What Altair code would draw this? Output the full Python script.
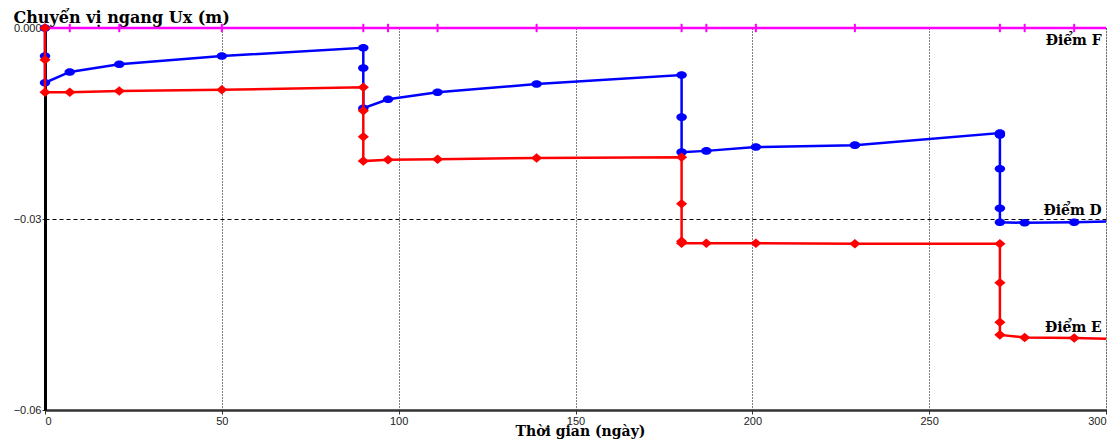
import altair as alt
import pandas as pd

# ---- data ----
t_D = [0, 0, 0, 7, 21, 50, 90,
       90, 90, 97, 111, 139, 180,
       180, 180, 187, 201, 229, 270,
       270, 270, 270, 270, 277, 291, 300]
u_D = [0.0, -0.0044, -0.0086, -0.0069, -0.0057, -0.0044, -0.0031,
       -0.0063, -0.0126, -0.0112, -0.0101, -0.0088, -0.0074,
       -0.0140, -0.0195, -0.0193, -0.0187, -0.0184, -0.0165,
       -0.0168, -0.0221, -0.0283, -0.0305, -0.0306, -0.0305, -0.0304]

t_E = [0, 0, 0, 7, 21, 50, 90,
       90, 90, 90, 97, 111, 139, 180,
       180, 180, 180, 187, 201, 229, 270,
       270, 270, 270, 277, 291, 300]
u_E = [0.0, -0.0050, -0.0101, -0.0101, -0.0099, -0.0097, -0.0093,
       -0.0130, -0.0171, -0.0209, -0.0207, -0.0206, -0.0204, -0.0203,
       -0.0276, -0.0335, -0.0338, -0.0338, -0.0338, -0.0339, -0.0339,
       -0.0400, -0.0462, -0.0482, -0.0486, -0.0487, -0.0488]

t_F = [0, 7, 21, 50, 90, 97, 111, 139, 180, 187, 201, 229, 270, 277, 291, 300]
u_F = [0.0] * len(t_F)

label_names = ["Điểm F", "Điểm D", "Điểm E"]
label_t = [298.8, 298.8, 298.8]
label_u = [-0.0027, -0.0294, -0.0477]

x_ticks = [0, 50, 100, 150, 200, 250, 300]
y_ticks = [0.0, -0.03, -0.06]

y_title = "Chuyển vị ngang Ux (m)"
x_title = "Thời gian (ngày)"
top_title = "và thời gian cố kết mỗi đợt 90 ngày"


def frame(t, u):
    return pd.DataFrame({"t": t, "u": u, "i": list(range(len(t)))})


dD, dE, dF = frame(t_D, u_D), frame(t_E, u_E), frame(t_F, u_F)
dL = pd.DataFrame({"name": label_names, "t": label_t, "u": label_u})

xs = alt.Scale(domain=[0, 300], nice=False, zero=False)
ys = alt.Scale(domain=[-0.06, 0.0], nice=False, zero=False)

X = alt.X("t:Q", scale=xs, axis=alt.Axis(
    values=x_ticks, title=x_title, grid=True, gridColor="#000", gridDash=[1, 2],
    gridWidth=1, domainColor="#333", domainWidth=2.5, tickColor="#333", tickSize=4,
    labelFont="Liberation Sans", labelFontSize=11, labelColor="#222", labelPadding=1,
    titleFont="DejaVu Serif", titleFontWeight="bold", titleFontSize=14,
    titleColor="#000", titleBaseline="alphabetic", titleY=25, titleX=535))
Y = alt.Y("u:Q", scale=ys, axis=alt.Axis(
    values=y_ticks, title=y_title, grid=True, gridColor="#000", gridDash=[4, 3],
    gridWidth=1, domainColor="#000", domainWidth=3, tickColor="#333", tickSize=3,
    labelFont="Liberation Sans", labelFontSize=11, labelColor="#222", labelPadding=1,
    labelExpr="datum.value == 0 ? '0.000' : format(datum.value, '.2f')",
    titleFont="DejaVu Serif", titleFontWeight="bold", titleFontSize=16,
    titleColor="#000", titleAngle=0, titleAlign="left", titleBaseline="alphabetic",
    titleX=-32, titleY=-6))

ORD = alt.Order("i:Q")


def series(df, color, shape, size, filled=True, sw=2.5):
    line = alt.Chart(df).mark_line(color=color, strokeWidth=sw).encode(x=X, y=Y, order=ORD)
    pts = alt.Chart(df).transform_filter("datum.t < 300").mark_point(
        shape=shape, size=size, filled=filled, color=color, opacity=1,
        strokeWidth=1.5).encode(x=X, y=Y)
    return line + pts


ellipse = "M-1,0A1,0.72,0,1,0,1,0A1,0.72,0,1,0,-1,0Z"
diamond = "M-1,0L0,-0.85L1,0L0,0.85Z"
vtick = "M0,-1L0,1"

lF = alt.Chart(dF).mark_line(color="#FF00FF", strokeWidth=2.5).encode(x=X, y=Y, order=ORD)
pF = alt.Chart(dF).transform_filter("datum.t < 300").mark_point(
    shape=vtick, size=70, filled=False, color="#FF00FF", opacity=1, strokeWidth=2
).encode(x=X, y=Y)

labels = alt.Chart(dL).mark_text(
    align="right", baseline="alphabetic", font="DejaVu Serif", fontWeight="bold",
    fontSize=14, color="#000").encode(x=X, y=Y, text="name:N")

chart = alt.layer(
    lF, pF,
    series(dD, "#0000FF", ellipse, 110),
    series(dE, "#FF0000", diamond, 125),
    labels,
).properties(
    width=1061, height=382,
    title=alt.TitleParams(top_title, font="Liberation Serif", fontStyle="italic",
                          fontWeight="normal", fontSize=20, color="#000",
                          anchor="middle", offset=14, dx=0),
    autosize=alt.AutoSizeParams(type="none"),
    padding={"left": 37, "top": 20, "right": 5, "bottom": 30},
).configure_view(stroke=None).configure(background="white")

chart.save("out.html", embed_options={"renderer": "svg", "actions": False})
